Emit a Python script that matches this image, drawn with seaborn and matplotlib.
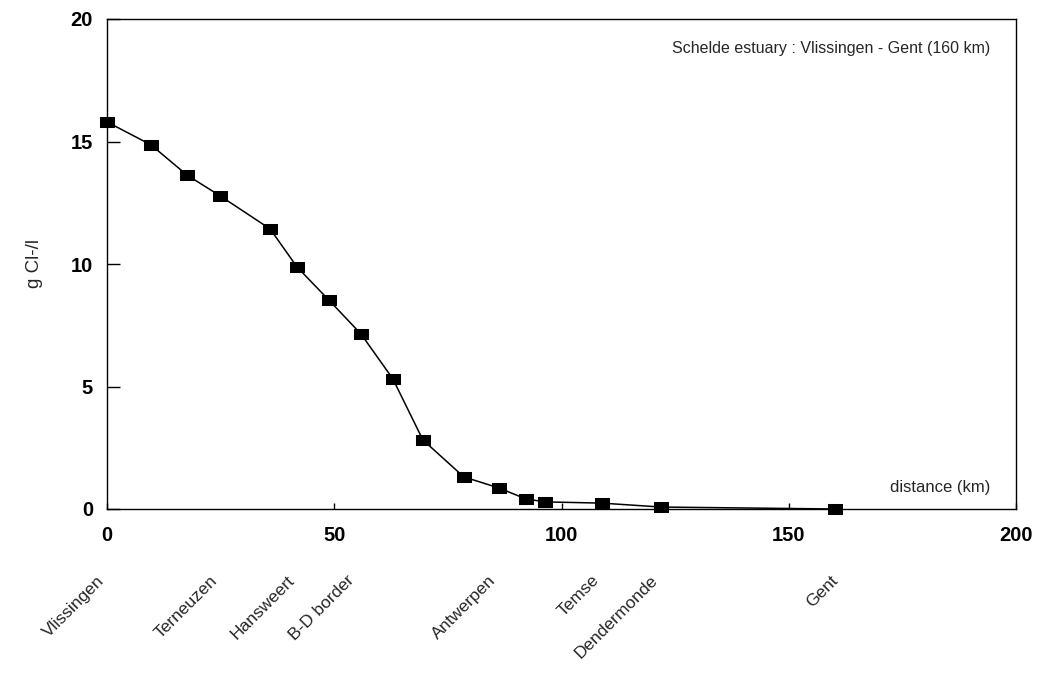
import matplotlib
matplotlib.use("Agg")
import matplotlib.pyplot as plt
import matplotlib.transforms as mtransforms
import seaborn as sns
import pandas as pd

# data
distance_km = [0, 9.7, 17.6, 24.9, 35.9, 41.8, 48.8, 55.9, 62.9, 69.5,
               78.5, 86.2, 92.2, 96.4, 108.9, 121.9, 160.2]
chloride_g_l = [15.8, 14.86, 13.63, 12.78, 11.43, 9.88, 8.53, 7.14, 5.31, 2.82,
                1.31, 0.86, 0.41, 0.29, 0.24, 0.08, 0.0]
place_names = ["Vlissingen", "Terneuzen", "Hansweert", "B-D border",
               "Antwerpen", "Temse", "Dendermonde", "Gent"]
place_km = [0, 24.9, 41.8, 55.0, 86.2, 108.9, 121.9, 161.5]
x_ticks = [0, 50, 100, 150, 200]
y_ticks = [0, 5, 10, 15, 20]

sns.set_theme(style="white")
plt.rcParams['font.family'] = ['Liberation Sans', 'DejaVu Sans']

fig = plt.figure(figsize=(10.37, 6.78), dpi=100)
ax = fig.add_axes([107/1037, 1-509/678, (1016-107)/1037, (509-19)/678])

df = pd.DataFrame({"distance": distance_km, "cl": chloride_g_l})
rect = [(-1.4, -1), (1.4, -1), (1.4, 1), (-1.4, 1), (-1.4, -1)]
sns.lineplot(data=df, x="distance", y="cl", ax=ax, color="black",
             linewidth=1.1, marker=rect, markersize=10,
             markerfacecolor="black", markeredgecolor="black", sort=False)
for ln in ax.lines:
    ln.set_clip_on(False)
    ln.set_zorder(5)

ax.set_xlim(0, 200)
ax.set_ylim(0, 20)
ax.set_xticks(x_ticks)
ax.set_yticks(y_ticks)
ax.set_xlabel("")
ax.set_ylabel("g Cl-/l", fontsize=13.5, labelpad=20)
for s in ax.spines.values():
    s.set_visible(True)
    s.set_color("black")
    s.set_linewidth(1.0)
ax.tick_params(axis="y", direction="in", length=9, width=1, pad=10,
               labelsize=14.5, colors="black", left=True)
ax.tick_params(axis="x", direction="in", length=4, width=1, pad=12,
               labelsize=14.5, colors="black", bottom=True)
for lab in ax.get_xticklabels() + ax.get_yticklabels():
    lab.set_fontweight("bold")

ax.text(0.972, 0.94, "Schelde estuary : Vlissingen - Gent (160 km)",
        transform=ax.transAxes, ha="right", va="center", fontsize=11.5)
ax.text(0.972, 0.043, "distance (km)", transform=ax.transAxes,
        ha="right", va="center", fontsize=12)

trans = mtransforms.blended_transform_factory(ax.transData, ax.transAxes)
for name, km in zip(place_names, place_km):
    ax.text(km, -0.13, name, transform=trans, rotation=45, ha="right",
            va="top", fontsize=12.5, clip_on=False)

fig.savefig("out.png", dpi=100)
